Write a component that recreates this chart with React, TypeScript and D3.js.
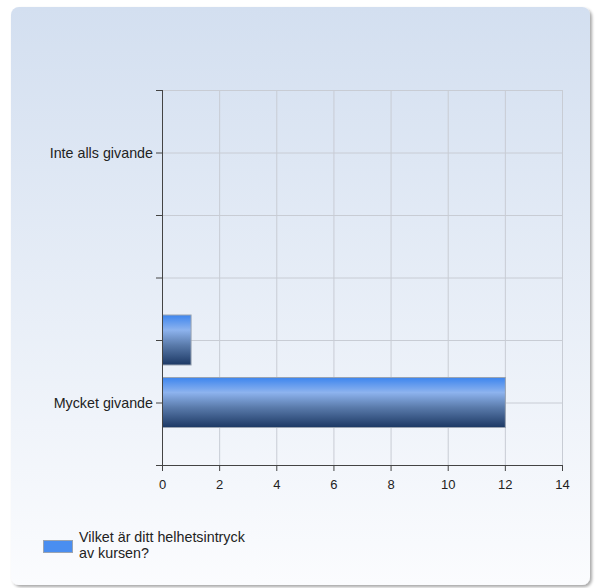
import React from "react";
import * as d3 from "d3";

const categories = ["Inte alls givande", "", "", "", "Mycket givande"];
const values = [0, 0, 0, 1, 12];
const xTicks = [0, 2, 4, 6, 8, 10, 12, 14];
const seriesName = ["Vilket är ditt helhetsintryck", "av kursen?"];

export default function App() {
  const W = 595, H = 588;
  const left = 162, right = 562, top = 90, bottom = 465;
  const x = d3.scaleLinear().domain([0, 14]).range([left, right]);
  const y = d3.scaleLinear().domain([0, categories.length + 1]).range([top, bottom]);
  const yTicks = d3.range(0, categories.length + 2);
  const barH = 50;
  const font = "'Liberation Sans', Arial, sans-serif";
  return (
    <svg width={W} height={H} style={{ position: "absolute", left: 0, top: 0 }}>
      <defs>
        <linearGradient id="bg" x1="0" y1="0" x2="0" y2="1">
          <stop offset="0" stopColor="#d3dff0" />
          <stop offset="1" stopColor="#fbfcfe" />
        </linearGradient>
        <linearGradient id="bar" x1="0" y1="0" x2="0" y2="1">
          <stop offset="0" stopColor="#3d85ee" />
          <stop offset="0.3" stopColor="#8db3ee" />
          <stop offset="0.6" stopColor="#5a7bab" />
          <stop offset="1" stopColor="#1c3864" />
        </linearGradient>
        <filter id="sh" x="-5%" y="-5%" width="110%" height="110%">
          <feGaussianBlur in="SourceAlpha" stdDeviation="1.5" />
          <feOffset dx="2" dy="2" />
          <feComponentTransfer><feFuncA type="linear" slope="0.35" /></feComponentTransfer>
          <feMerge><feMergeNode /><feMergeNode in="SourceGraphic" /></feMerge>
        </filter>
      </defs>
      <rect x={11} y={7} width={579} height={578} rx={8} fill="url(#bg)" filter="url(#sh)" />
      {xTicks.map((t) => (
        <line key={"gx" + t} x1={x(t) + 0.5} x2={x(t) + 0.5} y1={top} y2={bottom} stroke="#c8ccd4" strokeWidth={1} />
      ))}
      {yTicks.map((t) => (
        <line key={"gy" + t} x1={left} x2={right} y1={y(t) + 0.5} y2={y(t) + 0.5} stroke="#c8ccd4" strokeWidth={1} />
      ))}
      {values.map((v, i) =>
        v > 0 ? (
          <rect key={"b" + i} x={x(0) + 0.5} y={y(i + 1) - barH / 2} width={x(v) - x(0)} height={barH}
            fill="url(#bar)" stroke="#9aa4b2" strokeWidth={1} />
        ) : null
      )}
      <line x1={left + 0.5} x2={left + 0.5} y1={top} y2={bottom + 5} stroke="#444" strokeWidth={1} />
      <line x1={left} x2={right + 0.5} y1={bottom + 0.5} y2={bottom + 0.5} stroke="#444" strokeWidth={1} />
      {yTicks.map((t) => (
        <line key={"ty" + t} x1={left - 6} x2={left} y1={y(t) + 0.5} y2={y(t) + 0.5} stroke="#444" strokeWidth={1} />
      ))}
      {xTicks.map((t) => (
        <line key={"tx" + t} x1={x(t) + 0.5} x2={x(t) + 0.5} y1={bottom} y2={bottom + 6} stroke="#444" strokeWidth={1} />
      ))}
      {categories.map((c, i) => (
        <text key={"c" + i} x={left - 9} y={y(i + 1)} dy="0.35em" textAnchor="end" fontFamily={font} fontSize={14.3} fill="#222">{c}</text>
      ))}
      {xTicks.map((t) => (
        <text key={"l" + t} x={x(t) + 0.5} y={488.5} textAnchor="middle" fontFamily={font} fontSize={13} fill="#222">{t}</text>
      ))}
      <rect x={43.5} y={540.5} width={29} height={12} fill="#4a8ef0" stroke="#9aa4b2" strokeWidth={1} />
      {seriesName.map((s, i) => (
        <text key={"s" + i} x={79} y={542 + i * 16} fontFamily={font} fontSize={14.3} fill="#222">{s}</text>
      ))}
    </svg>
  );
}
